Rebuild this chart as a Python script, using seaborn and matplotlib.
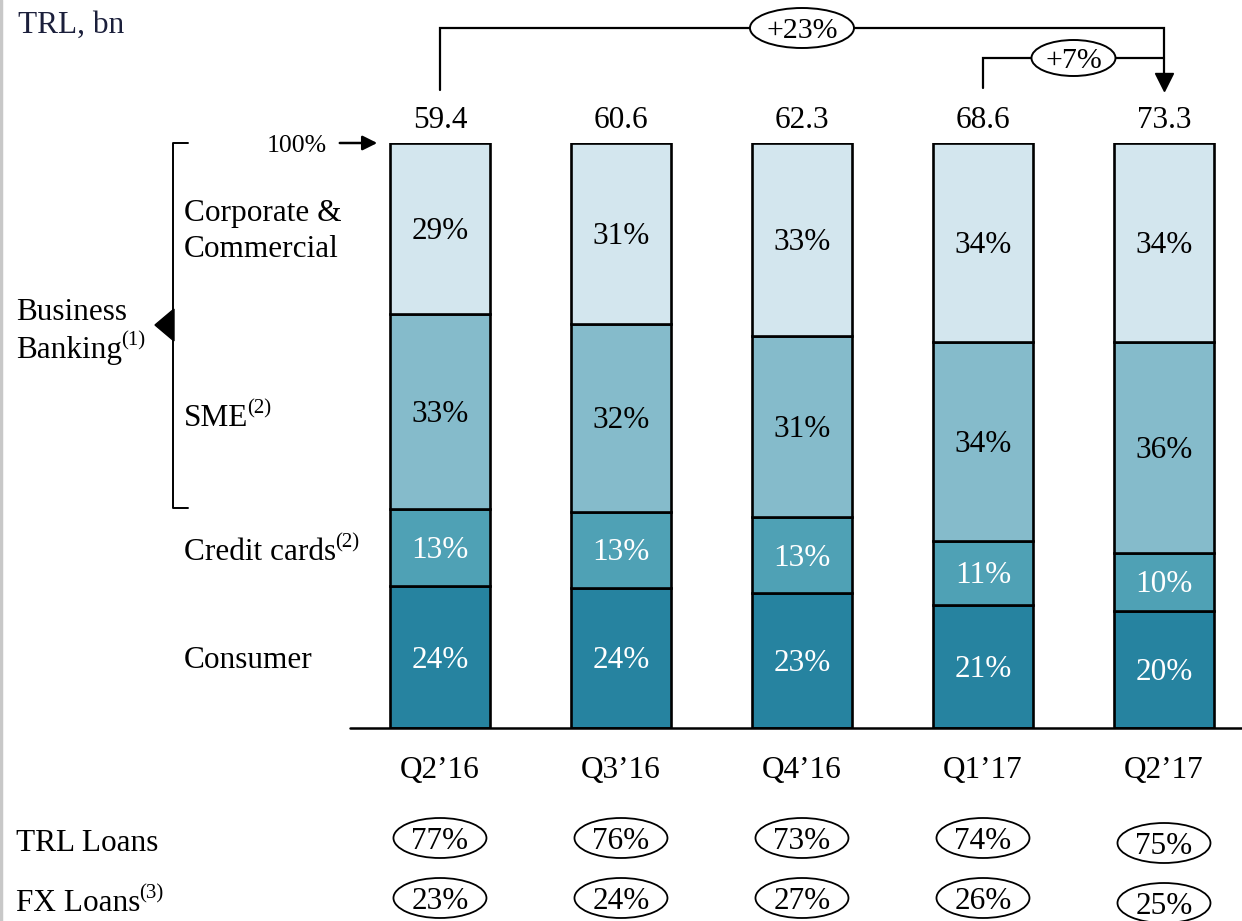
import numpy as np
import pandas as pd
import matplotlib
matplotlib.use("Agg")
import matplotlib.pyplot as plt
import seaborn as sns
from matplotlib.patches import Ellipse, Polygon
from matplotlib.transforms import blended_transform_factory, offset_copy

# ---------------- data ----------------
quarters = ["Q2\u201916", "Q3\u201916", "Q4\u201916", "Q1\u201917", "Q2\u201917"]
totals = [59.4, 60.6, 62.3, 68.6, 73.3]
consumer = [24, 24, 23, 21, 20]
credit_cards = [13, 13, 13, 11, 10]
sme = [33, 32, 31, 34, 36]
corporate = [29, 31, 33, 34, 34]
trl_loans = [77, 76, 73, 74, 75]
fx_loans = [23, 24, 27, 26, 25]
growth_total = "+23%"
growth_qoq = "+7%"

segments = ["Consumer", "Credit cards", "SME", "Corporate & Commercial"]
seg_colors = ["#2683a0", "#4fa1b5", "#85bbcb", "#d3e6ee"]
seg_text_colors = ["white", "white", "black", "black"]

df = pd.DataFrame({
    "quarter": quarters,
    "Consumer": consumer,
    "Credit cards": credit_cards,
    "SME": sme,
    "Corporate & Commercial": corporate,
})

# ---------------- figure ----------------
sns.set_theme(style="white")
plt.rcParams["font.family"] = ["Liberation Serif", "DejaVu Serif"]
plt.rcParams["text.color"] = "black"

W, H = 1242, 921
fig = plt.figure(figsize=(W / 100, H / 100), dpi=100)
fig.patch.set_facecolor("white")

ov = fig.add_axes([0, 0, 1, 1])
ov.set_xlim(0, W)
ov.set_ylim(H, 0)
ov.axis("off")

ax = fig.add_axes([350 / W, (H - 728) / H, (W - 350) / W, 585 / H])
ax.patch.set_alpha(0)

FS = 22.5
HALF_CAP = 10.5  # px from visual centre to baseline


def ctext(axes, x, y, s, size=FS, transform=None, **kw):
    """Text whose capital letters are vertically centred on y (pixel overlay units)."""
    t = transform if transform is not None else axes.transData
    return axes.text(x, y + HALF_CAP * size / FS, s, fontsize=size, va="baseline",
                     transform=t, **kw)


sums = df[segments].sum(axis=1).values
bottom = np.zeros(len(df))
inner_tr = offset_copy(ax.transData, fig=fig, y=-HALF_CAP, units="dots")
for seg, col, tcol in zip(segments, seg_colors, seg_text_colors):
    frac = df[seg].values / sums
    sns.barplot(x=df["quarter"], y=frac, bottom=bottom, color=col, saturation=1,
                width=0.552, edgecolor="black", linewidth=1.9, ax=ax)
    for i, (b, f, v) in enumerate(zip(bottom, frac, df[seg].values)):
        ax.text(i, b + f / 2, f"{v}%", ha="center", va="baseline",
                fontsize=FS, color=tcol, transform=inner_tr)
    bottom = bottom + frac

ax.set_xlim(-0.497, 4.431)
ax.set_ylim(0, 1)
ax.axis("off")
ax.axhline(0, color="black", lw=1.8, clip_on=False)

tr = blended_transform_factory(ax.transData, ov.transData)

# totals above bars
for i, t in enumerate(totals):
    ctext(ov, i, 118, f"{t:.1f}", transform=tr, ha="center")

# quarter labels
for i, q in enumerate(quarters):
    ctext(ov, i, 767, q, transform=tr, ha="center")

# growth brackets
ov.plot([0, 0, 4, 4], [90, 28, 28, 76], color="black", lw=1.6, transform=tr,
        solid_joinstyle="miter")
ov.plot([4], [82], marker="v", markersize=13, color="black", transform=tr)
ov.add_patch(Ellipse((2, 28), 104 / 181, 40, transform=tr, fc="white", ec="black", lw=1.4, zorder=3))
ctext(ov, 2, 28, growth_total, size=21.5, transform=tr, ha="center", zorder=4)

ov.plot([3, 3, 4], [88, 58, 58], color="black", lw=1.6, transform=tr,
        solid_joinstyle="miter")
ov.add_patch(Ellipse((3.5, 58), 84 / 181, 36, transform=tr, fc="white", ec="black", lw=1.4, zorder=3))
ctext(ov, 3.5, 58, growth_qoq, size=21.5, transform=tr, ha="center", zorder=4)

# 100% arrow
ctext(ov, 327, 143, "100%", size=18.5, ha="right")
ov.annotate("", xy=(380, 143), xytext=(337, 143),
            arrowprops=dict(arrowstyle="-|>", lw=1.8, color="black", mutation_scale=22))

# business banking bracket
ov.plot([188, 173, 173, 188], [143, 143, 508, 508], color="black", lw=1.4)
ov.add_patch(Polygon([(155, 325), (174, 309), (174, 341)], closed=True, fc="black", ec="black"))

renderer = fig.canvas.get_renderer()


def sup_text(x, y, main, sup, size=FS, supsize=15, dy=-9, **kw):
    t = ctext(ov, x, y, main, size=size, ha="left", **kw)
    bb = t.get_window_extent(renderer)
    ctext(ov, bb.x1 - 1, y + dy, sup, size=supsize, ha="left", **kw)


# left labels
ctext(ov, 18, 22, "TRL, bn", ha="left", color="#1b1f3b")
ctext(ov, 184, 210, "Corporate &", ha="left")
ctext(ov, 184, 246, "Commercial", ha="left")
sup_text(184, 415, "SME", "(2)")
sup_text(184, 549, "Credit cards", "(2)")
ctext(ov, 184, 657, "Consumer", ha="left")
ctext(ov, 16, 309, "Business", ha="left")
sup_text(16, 347, "Banking", "(1)")

# loan split rows
ctext(ov, 16, 840, "TRL Loans", ha="left")
sup_text(16, 900, "FX Loans", "(3)")
row_shift = [0, 0, 0, 0, 5]
for i, (a, b) in enumerate(zip(trl_loans, fx_loans)):
    for val, yy in ((a, 838 + row_shift[i]), (b, 899 + row_shift[i] - 1)):
        ov.add_patch(Ellipse((i, yy), 93 / 181, 40, transform=tr, fc="white", ec="black", lw=1.3))
        ctext(ov, i, yy, f"{val}%", transform=tr, ha="center")

# faint left border
ov.plot([1, 1], [0, H], color="#c8c8c8", lw=2.5)

fig.savefig("out.png", dpi=100)
